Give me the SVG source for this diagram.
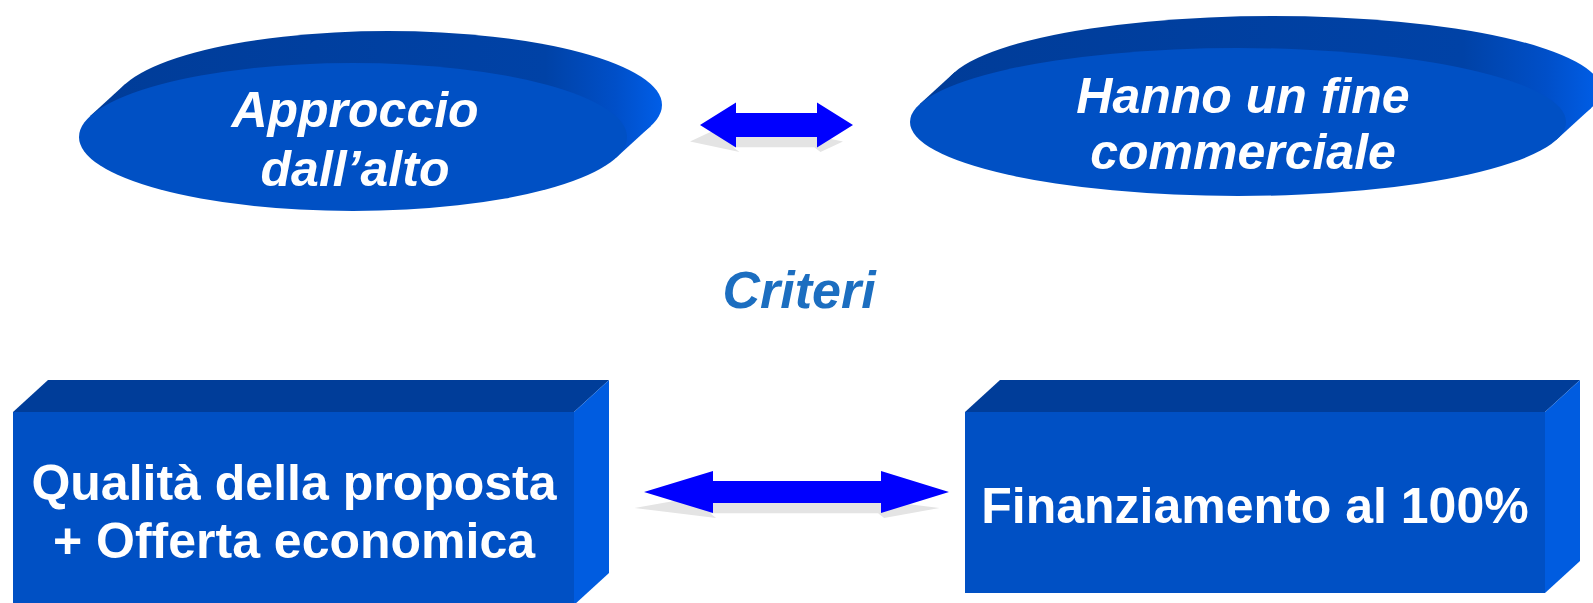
<svg xmlns="http://www.w3.org/2000/svg" xmlns:xlink="http://www.w3.org/1999/xlink" width="1593" height="603" viewBox="0 0 1593 603">
<style>
.front{fill:#0050c4}
.top{fill:#003d99}
.side{fill:#005ce0}
.arrow{fill:#0000ff}
.shadow{fill:#e4e4e4}
.lbl{font-family:"Liberation Sans",Arial,sans-serif;font-weight:bold;font-size:50px;fill:#ffffff;text-anchor:middle}
.it{font-style:italic}
.crit{font-family:"Liberation Sans",Arial,sans-serif;font-weight:bold;font-style:italic;font-size:52px;fill:#1c6ec0;text-anchor:middle}
</style>
<defs>
<linearGradient id="bandL" gradientUnits="userSpaceOnUse" x1="79" y1="0" x2="662" y2="0">
<stop offset="0" stop-color="#003c98"/>
<stop offset="0.8" stop-color="#0042a6"/>
<stop offset="0.92" stop-color="#004fc8"/>
<stop offset="1" stop-color="#005ee8"/>
</linearGradient>
<linearGradient id="bandR" gradientUnits="userSpaceOnUse" x1="910" y1="0" x2="1601" y2="0">
<stop offset="0" stop-color="#003c98"/>
<stop offset="0.8" stop-color="#0042a6"/>
<stop offset="0.92" stop-color="#004fc8"/>
<stop offset="1" stop-color="#005ee8"/>
</linearGradient>
<path id="arrTop" d="M700,125 L736,102.5 L736,113 L817,113 L817,102.5 L853,125 L817,147.5 L817,137 L736,137 L736,147.5 Z"/>
<path id="arrBot" d="M644,492 L713,471 L713,481 L881,481 L881,471 L949,492 L881,513 L881,503 L713,503 L713,513 Z"/>
</defs>

<g id="node-approccio">
<ellipse cx="388" cy="105" rx="274" ry="74" fill="url(#bandL)"/>
<polygon points="90.2,116 125.2,84 650.8,126 615.8,158" fill="url(#bandL)"/>
<ellipse class="front" cx="353" cy="137" rx="274" ry="74"/>
<text class="lbl it" x="355" y="127">Approccio</text>
<text class="lbl it" x="355" y="186">dall’alto</text>
</g>

<g id="node-hanno">
<ellipse cx="1273" cy="90" rx="328" ry="74" fill="url(#bandR)"/>
<polygon points="919.6,104.3 954.6,72.3 1591.4,107.7 1556.4,139.7" fill="url(#bandR)"/>
<ellipse class="front" cx="1238" cy="122" rx="328" ry="74"/>
<text class="lbl it" x="1243" y="113">Hanno un fine</text>
<text class="lbl it" x="1243" y="169">commerciale</text>
</g>

<g id="label-criteri">
<text class="crit" x="799" y="308">Criteri</text>
</g>

<g id="node-qualita">
<polygon class="top" points="13,412 48,380 609,380 574,412"/>
<polygon class="side" points="574,412 609,380 609,573 574,605"/>
<rect class="front" x="13" y="412" width="561" height="193"/>
<text class="lbl" x="294" y="500">Qualità della proposta</text>
<text class="lbl" x="294" y="558">+ Offerta economica</text>
</g>

<g id="node-finanziamento">
<polygon class="top" points="965,412 1000,380 1580,380 1545,412"/>
<polygon class="side" points="1545,412 1580,380 1580,561 1545,593"/>
<rect class="front" x="965" y="412" width="580" height="181"/>
<text class="lbl" x="1255" y="523">Finanziamento al 100%</text>
</g>

<g id="connectors">
<use xlink:href="#arrTop" href="#arrTop" class="shadow" transform="matrix(1 0 0.6 0.47 -85 82.75)"/>
<use xlink:href="#arrTop" href="#arrTop" class="arrow"/>
<use xlink:href="#arrBot" href="#arrBot" class="shadow" transform="matrix(1 0 0.6 0.476 -304.7 273.8)"/>
<use xlink:href="#arrBot" href="#arrBot" class="arrow"/>
</g>
</svg>
